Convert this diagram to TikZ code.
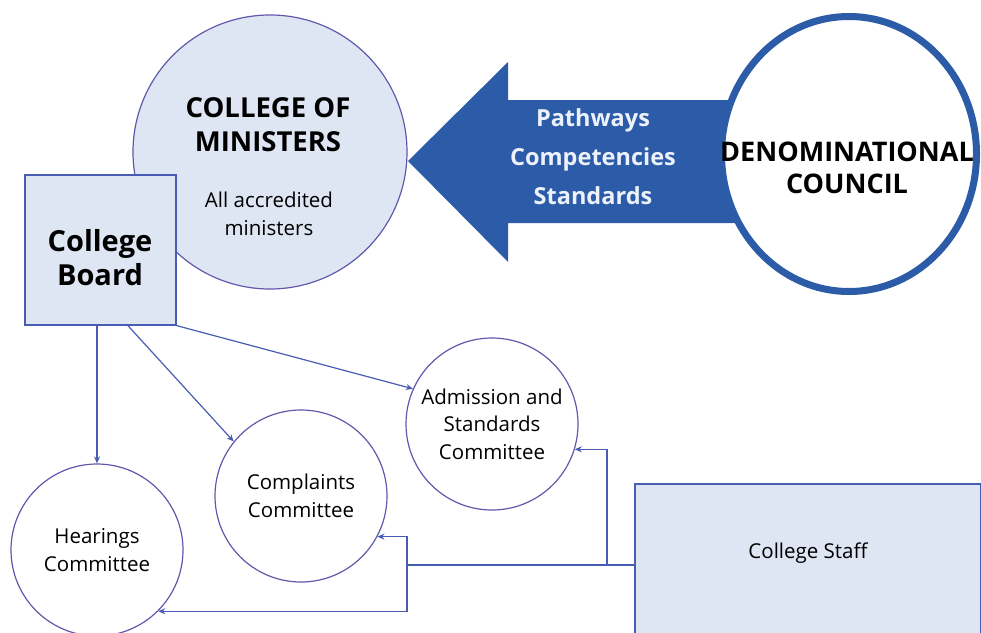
\documentclass[tikz,border=0pt]{standalone}
\usepackage{fontspec}
\setmainfont{Open Sans}
\usetikzlibrary{arrows.meta,shapes.geometric,calc}
\definecolor{circline}{RGB}{98,88,172}
\definecolor{connc}{RGB}{72,92,180}
\definecolor{lightfill}{RGB}{222,230,243}
\definecolor{bigblue}{RGB}{44,91,168}
\definecolor{arrowtext}{RGB}{236,241,250}
\begin{document}
\begin{tikzpicture}[x=1pt,y=-1pt,
  committee/.style={circle,draw=circline,line width=1.2pt,fill=white,minimum size=172pt,inner sep=0pt,align=center,font=\fontsize{20.5}{27.5}\selectfont},
  conn/.style={draw=connc,line width=1.2pt,-{Stealth[length=7pt,width=6pt]}},
  connline/.style={draw=connc,line width=1.2pt},
  boxfill/.style={rectangle,draw=connc,line width=1.2pt,fill=lightfill,inner sep=0pt},
  bigtext/.style={font=\bfseries\fontsize{27.5}{34}\selectfont,align=center,inner sep=0pt},
  smalltext/.style={font=\fontsize{20.5}{28}\selectfont,align=center,inner sep=0pt}
]
\useasboundingbox (0,0) rectangle (981,632);
\fill[white] (0,0) rectangle (981,632);

% big arrow
\fill[bigblue] (408,161) -- (508,62) -- (508,100) -- (770,100) -- (770,223) -- (508,223) -- (508,262) -- cycle;
\node[font=\bfseries\fontsize{23.5}{39}\selectfont,text=arrowtext,align=center,inner sep=0pt] (flow) at (593,157) {Pathways\\Competencies\\Standards};

% denominational council
\node[ellipse,draw=bigblue,line width=7pt,fill=white,minimum width=255pt,minimum height=275pt,inner sep=0pt] (den) at (849,154) {};
\node[bigtext,font=\bfseries\fontsize{27}{32}\selectfont] (dentext) at (847,168) {DENOMINATIONAL\\COUNCIL};

% college of ministers
\node[circle,draw=circline,line width=1.2pt,fill=lightfill,minimum size=274pt,inner sep=0pt] (com) at (270,152) {};
\node[bigtext] (comtitle) at (268,125) {COLLEGE OF\\MINISTERS};
\node[smalltext] (comsub) at (269,214) {All accredited\\ministers};

% college board
\node[boxfill,minimum width=151pt,minimum height=150pt] (board) at (100.5,250) {};
\node[bigtext,font=\bfseries\fontsize{29}{34}\selectfont] (boardtext) at (100,258) {College\\Board};

% committees
\node[committee] (hear) at (97,550) {Hearings\\Committee};
\node[committee] (comp) at (301,496) {Complaints\\Committee};
\node[committee] (adm) at (492,424) {Admission and\\Standards\\Committee};

% college staff
\node[boxfill,minimum width=346pt,minimum height=162pt] (staff) at (808,565) {};
\node[smalltext] (stafftext) at (808,553) {College Staff};

% connectors from board
\draw[conn] (board.south -| hear.north) -- (hear.north);
\draw[conn] ($(board.south west)!0.68!(board.south east)$) -- (comp.141.5);
\draw[conn] (board.south east) -- (adm.156.7);

% connectors from staff
\coordinate (j1) at (607,565);
\coordinate (j2) at (407,565);
\draw[connline] (staff.west) -- (j2);
\draw[conn] (j1) |- (adm.-17);
\draw[conn] (j2) |- (comp.-28.6);
\draw[conn] (j2) |- (hear.-45);
\end{tikzpicture}
\end{document}
